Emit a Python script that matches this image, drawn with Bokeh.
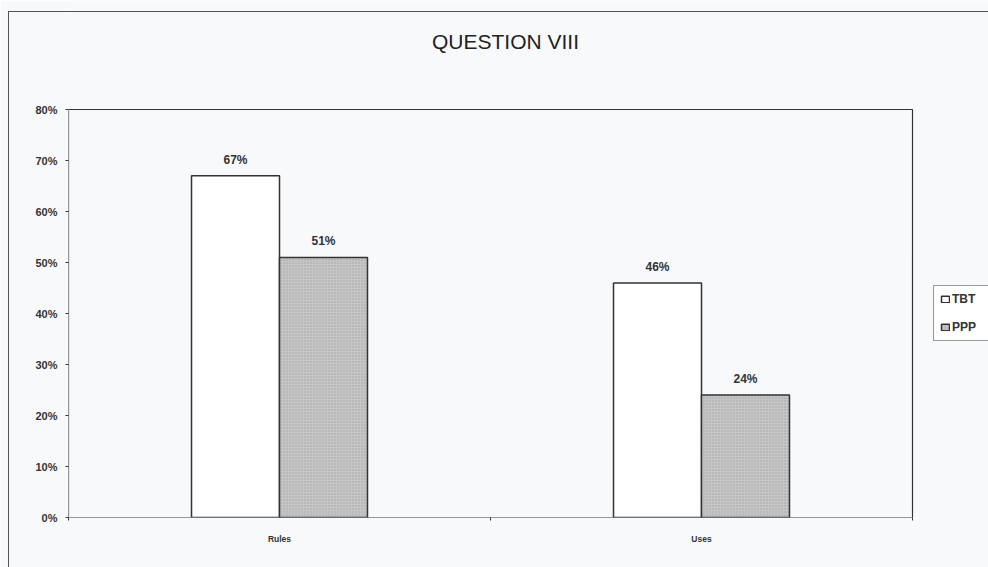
from bokeh.plotting import figure
from bokeh.models import (Range1d, FixedTicker, PrintfTickFormatter, ColumnDataSource,
                          Legend, LegendItem, InlineStyleSheet, Label)
from bokeh.core.properties import value
from bokeh.embed import file_html
from bokeh.resources import INLINE

# Survey results, percent of respondents
categories = ["Rules", "Uses"]
series_names = ["TBT", "PPP"]
tbt_values = [67, 46]
ppp_values = [51, 24]
y_ticks = [0, 10, 20, 30, 40, 50, 60, 70, 80]

FONT = "Liberation Sans"
INK = "#333333"
BG = "#f8f9fb"

W, H = 988, 567
LEFT, BOTTOM = 68, 50
PX_PER_CAT = 422          # width of one category slot
PX_PER_PCT = 5.1          # height of one percent

n_cat = len(categories)
y_top = y_ticks[-1]

# the drawing area reaches the canvas edges, so the title and legend can sit in it
x_end = (W - LEFT) / PX_PER_CAT
y_end = (H - BOTTOM) / PX_PER_PCT

bar_w = 0.2085
off = bar_w / 2
centers = [i + 0.5 for i in range(n_cat)]

src = ColumnDataSource(data=dict(
    x_tbt=[c - off for c in centers],
    x_ppp=[c + off for c in centers],
    tbt=tbt_values,
    ppp=ppp_values,
    tbt_lbl=[f"{v}%" for v in tbt_values],
    ppp_lbl=[f"{v}%" for v in ppp_values],
))

p = figure(width=W, height=H, x_range=Range1d(0, x_end), y_range=Range1d(0, y_end),
           output_backend="svg", toolbar_location=None,
           min_border_left=LEFT, min_border_right=0,
           min_border_top=0, min_border_bottom=BOTTOM)
p.background_fill_color = BG
p.border_fill_color = BG
p.outline_line_color = None
p.xgrid.grid_line_color = None
p.ygrid.grid_line_color = None

# outer chart border, running off the right and bottom edges
p.stylesheets = [InlineStyleSheet(css="""
:host::after {
  content: "";
  position: absolute;
  left: 8px; top: 11px; right: 0; bottom: 0;
  border-left: 1px solid #555555;
  border-top: 1px solid #555555;
  pointer-events: none;
}
""")]

# plot box
p.quad(left=0, right=n_cat, bottom=0, top=y_top, fill_color=None,
       line_color=INK, line_width=1.2)

r_tbt = p.vbar(x="x_tbt", top="tbt", width=bar_w, source=src,
               fill_color="#ffffff", line_color=INK, line_width=1.5)
r_ppp = p.vbar(x="x_ppp", top="ppp", width=bar_w, source=src,
               fill_color="#c6c6c6", line_color=INK, line_width=1.5,
               hatch_pattern=".", hatch_color="#969696", hatch_scale=3, hatch_alpha=0.7)

# value labels above the bars
for xcol, col, lbl in (("x_tbt", "tbt", "tbt_lbl"), ("x_ppp", "ppp", "ppp_lbl")):
    p.text(x=xcol, y=col, text=lbl, source=src,
           text_align="center", text_baseline="bottom", y_offset=-9,
           text_font=value(FONT), text_font_size="12px", text_font_style="bold",
           text_color=INK)

# title
p.add_layout(Label(x=(505 - LEFT) / PX_PER_CAT, y=(H - BOTTOM - 41) / PX_PER_PCT,
                   text="QUESTION VIII", text_align="center", text_baseline="middle",
                   text_font=FONT, text_font_size="21px", text_color="#222222"))

# y axis
p.yaxis.ticker = FixedTicker(ticks=y_ticks)
p.yaxis.formatter = PrintfTickFormatter(format="%d%%")
p.yaxis.axis_line_color = None
p.yaxis.major_tick_line_color = INK
p.yaxis.major_tick_out = 3
p.yaxis.major_tick_in = 0
p.yaxis.minor_tick_line_color = None
p.yaxis.major_label_standoff = 8
p.yaxis.major_label_text_font = FONT
p.yaxis.major_label_text_font_size = "11px"
p.yaxis.major_label_text_font_style = "bold"
p.yaxis.major_label_text_color = INK

# x axis: names under the slot centres, small ticks at the slot boundaries
p.xaxis.ticker = FixedTicker(ticks=centers, minor_ticks=list(range(n_cat + 1)))
p.xaxis.major_label_overrides = {c: name for c, name in zip(centers, categories)}
p.xaxis.axis_line_color = None
p.xaxis.major_tick_line_color = None
p.xaxis.major_tick_out = 0
p.xaxis.major_tick_in = 0
p.xaxis.minor_tick_line_color = INK
p.xaxis.minor_tick_out = 3
p.xaxis.minor_tick_in = 0
p.xaxis.major_label_standoff = 13
p.xaxis.major_label_text_font = FONT
p.xaxis.major_label_text_font_size = "8.5px"
p.xaxis.major_label_text_font_style = "bold"
p.xaxis.major_label_text_color = INK

legend = Legend(items=[LegendItem(label=series_names[0], renderers=[r_tbt]),
                       LegendItem(label=series_names[1], renderers=[r_ppp])],
                location=(865, 176), orientation="vertical",
                glyph_width=10, glyph_height=8, label_height=14, label_width=30,
                label_standoff=2, spacing=14, padding=6, margin=0,
                border_line_color=INK, border_line_width=1,
                background_fill_color="#ffffff", background_fill_alpha=1,
                label_text_font=FONT, label_text_font_size="12px",
                label_text_font_style="bold", label_text_color=INK)
p.add_layout(legend)

open("out.html", "w").write(file_html(p, INLINE))
